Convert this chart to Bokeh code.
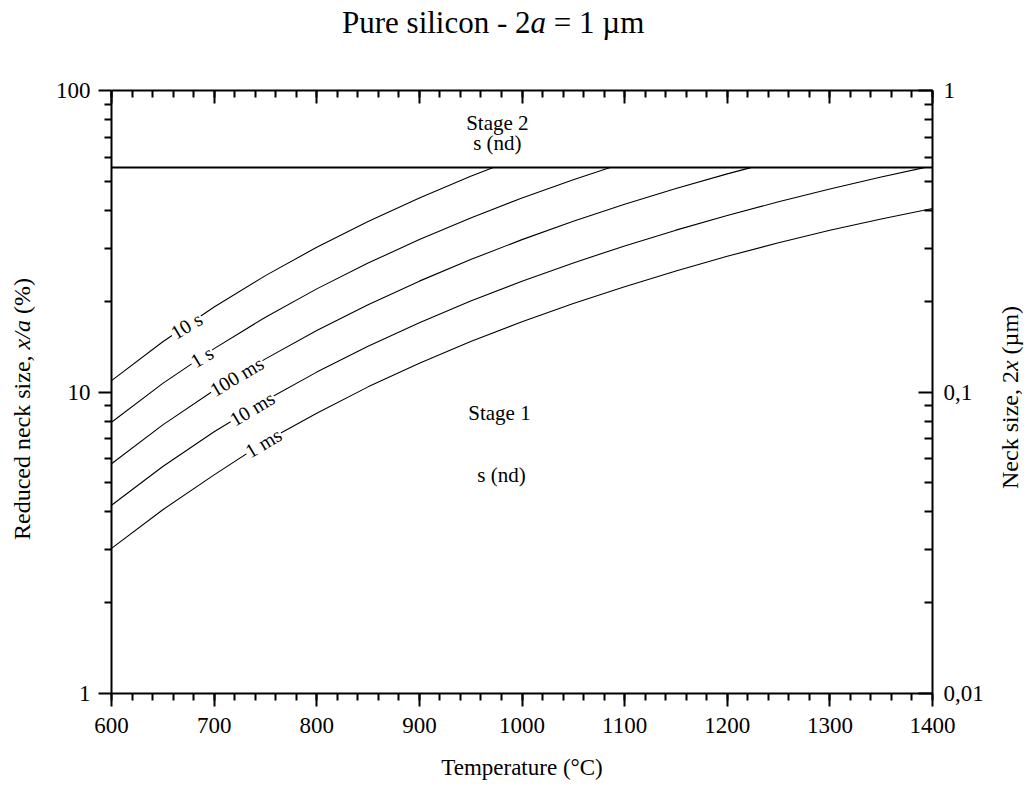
import numpy as np
from bokeh.plotting import figure
from bokeh.models import (Range1d, LogAxis, LinearAxis, FixedTicker, CustomJSTickFormatter,
                          ColumnDataSource, LogScale, Div)
from bokeh.layouts import row, column
from bokeh.embed import file_html
from bokeh.resources import INLINE
from bokeh.core.properties import value

# ---------------- data ----------------
curve_names = ["10 s", "1 s", "100 ms", "10 ms", "1 ms"]

T_10s = [600, 650, 700, 750, 800, 850, 900, 950, 972]
v_10s = [10.91, 14.68, 19.14, 24.32, 30.20, 36.77, 44.03, 51.92, 55.5]

T_1s = [600, 650, 700, 750, 800, 850, 900, 950, 1000, 1050, 1086]
v_1s = [7.94, 10.68, 13.93, 17.70, 21.98, 26.76, 32.04, 37.79, 44.00, 50.59, 55.5]

T_100ms = [600, 650, 700, 750, 800, 850, 900, 950, 1000, 1050, 1100, 1150, 1200, 1223]
v_100ms = [5.78, 7.78, 10.14, 12.88, 16.00, 19.48, 23.32, 27.50, 32.02, 36.83, 41.93, 47.30, 52.90, 55.5]

T_10ms = [600, 650, 700, 750, 800, 850, 900, 950, 1000, 1050, 1100, 1150, 1200, 1250, 1300, 1350, 1392]
v_10ms = [4.21, 5.66, 7.38, 9.37, 11.64, 14.17, 16.97, 20.02, 23.30, 26.80, 30.51, 34.42, 38.50, 42.74, 47.14, 51.67, 55.5]

T_1ms = [600, 650, 700, 750, 800, 850, 900, 950, 1000, 1050, 1100, 1150, 1200, 1250, 1300, 1350, 1400]
v_1ms = [3.03, 4.07, 5.31, 6.85, 8.50, 10.40, 12.45, 14.70, 17.10, 19.65, 22.35, 25.20, 28.20, 31.25, 34.40, 37.50, 40.60]

stage_limit = 55.5          # stage 1 / stage 2 boundary, x/a (%)
limit_T = [600, 1400]

label_T = [673, 688, 722, 737, 748]   # temperatures where the curve labels sit

x_ticks = [600, 700, 800, 900, 1000, 1100, 1200, 1300, 1400]
x_minor = [t for t in range(600, 1401, 20)]
y_ticks = [1, 10, 100]
y_minor = [m * d for d in (1, 10) for m in range(2, 10)]
r_ticks = [0.01, 0.1, 1]
r_minor = [m * d for d in (0.01, 0.1) for m in range(2, 10)]

# ---------------- geometry (page pixels) ----------------
SERIF = "Liberation Serif"
CSS_SERIF = "'Liberation Serif', 'Times New Roman', serif"
LEFT_W, RIGHT_W, TITLE_H = 44, 33, 48
PW, PH = 951, 736
FRAME_L, FRAME_T, FRAME_W, FRAME_H = 111, 90, 821, 603

p = figure(width=PW, height=PH, x_range=Range1d(600, 1400), y_range=Range1d(1, 100),
           y_axis_type="log", output_backend="svg", toolbar_location=None, title=None,
           min_border_left=FRAME_L - LEFT_W, min_border_top=FRAME_T - TITLE_H,
           min_border_right=PW - (FRAME_L - LEFT_W) - FRAME_W,
           min_border_bottom=PH - (FRAME_T - TITLE_H) - FRAME_H, margin=0)
p.outline_line_color = None
p.xgrid.visible = False
p.ygrid.visible = False
p.extra_y_ranges = {"um": Range1d(0.01, 1)}
p.extra_y_scales = {"um": LogScale()}

def style(ax, tin, tout, mtin, mtout, labels=True):
    ax.axis_line_width = 2
    ax.axis_line_color = "black"
    ax.major_tick_line_width = 2
    ax.minor_tick_line_width = 2
    ax.major_tick_in = tin
    ax.major_tick_out = tout
    ax.minor_tick_in = mtin
    ax.minor_tick_out = mtout
    ax.major_label_text_font = SERIF
    ax.major_label_text_font_size = "23px"
    ax.major_label_text_color = "black" if labels else None

xa = p.xaxis[0]
xa.ticker = FixedTicker(ticks=x_ticks, minor_ticks=x_minor)
style(xa, 0, 13, 0, 7)
xa.major_label_standoff = 11
xa.axis_label = "Temperature (°C)"
xa.axis_label_text_font = SERIF
xa.axis_label_text_font_size = "23px"
xa.axis_label_text_font_style = "normal"
xa.axis_label_text_color = "black"
xa.axis_label_standoff = 19

ya = p.yaxis[0]
ya.ticker = FixedTicker(ticks=y_ticks, minor_ticks=y_minor)
ya.formatter = CustomJSTickFormatter(code="return tick.toString();")
style(ya, 0, 13, 0, 7)
ya.major_label_standoff = 8
ya.major_label_orientation = "horizontal"

top = LinearAxis(ticker=FixedTicker(ticks=x_ticks, minor_ticks=x_minor))
style(top, 13, 0, 7, 0, labels=False)
p.add_layout(top, "above")

right = LogAxis(y_range_name="um", ticker=FixedTicker(ticks=r_ticks, minor_ticks=r_minor),
                formatter=CustomJSTickFormatter(code="return tick.toString().replace('.', ',');"))
style(right, 14, 0, 8, 0)
right.major_label_standoff = 11
right.major_label_orientation = "horizontal"
p.add_layout(right, "right")

# ---------------- marks ----------------
p.line(limit_T, [stage_limit, stage_limit], line_color="black", line_width=2)

series = [(T_10s, v_10s), (T_1s, v_1s), (T_100ms, v_100ms), (T_10ms, v_10ms), (T_1ms, v_1ms)]
for T, v in series:
    p.line(T, v, line_color="black", line_width=1.1)

lab_y = [10 ** np.interp(t, T, np.log10(v)) for t, (T, v) in zip(label_T, series)]
lab_src = ColumnDataSource(dict(x=label_T, y=lab_y, text=curve_names))
p.text(x="x", y="y", text="text", source=lab_src, angle=0.54,
       text_font=value(SERIF), text_font_size="20px", text_align="center",
       text_baseline="middle", background_fill_color="white", padding=1)

stage_src = ColumnDataSource(dict(x=[976, 976, 978, 980], y=[78.1, 67.0, 8.5, 5.3],
                                  text=["Stage 2", "s (nd)", "Stage 1", "s (nd)"]))
p.text(x="x", y="y", text="text", source=stage_src, text_font=value(SERIF),
       text_font_size="21px", text_align="center", text_baseline="middle")

# ---------------- title and axis titles (real text with italic parts) ----------------
def text_div(width, height, left, top, html, size, vertical=False):
    rot = "transform:rotate(-90deg);transform-origin:0 0;" if vertical else ""
    inner = (f'<div style="position:relative;width:{width}px;height:{height}px;">'
             f'<div style="position:absolute;left:{left}px;top:{top}px;{rot}'
             f'white-space:nowrap;line-height:1;font-family:{CSS_SERIF};'
             f'font-size:{size}px;color:black;">{html}</div></div>')
    return Div(text=inner, width=width, height=height, margin=0)

title_div = text_div(PW, TITLE_H, 298, 7, "Pure silicon - 2<i>a</i> = 1 µm", 31)
left_div = text_div(LEFT_W, TITLE_H + PH, 10, 540, "Reduced neck size, <i>x/a</i> (%)", 24, vertical=True)
right_div = text_div(RIGHT_W, TITLE_H + PH, 3, 489, "Neck size, 2<i>x</i> (µm)", 24, vertical=True)

layout = row(left_div, column(title_div, p, spacing=0, margin=0), right_div, spacing=0, margin=0)

open("out.html", "w").write(file_html(layout, INLINE))
